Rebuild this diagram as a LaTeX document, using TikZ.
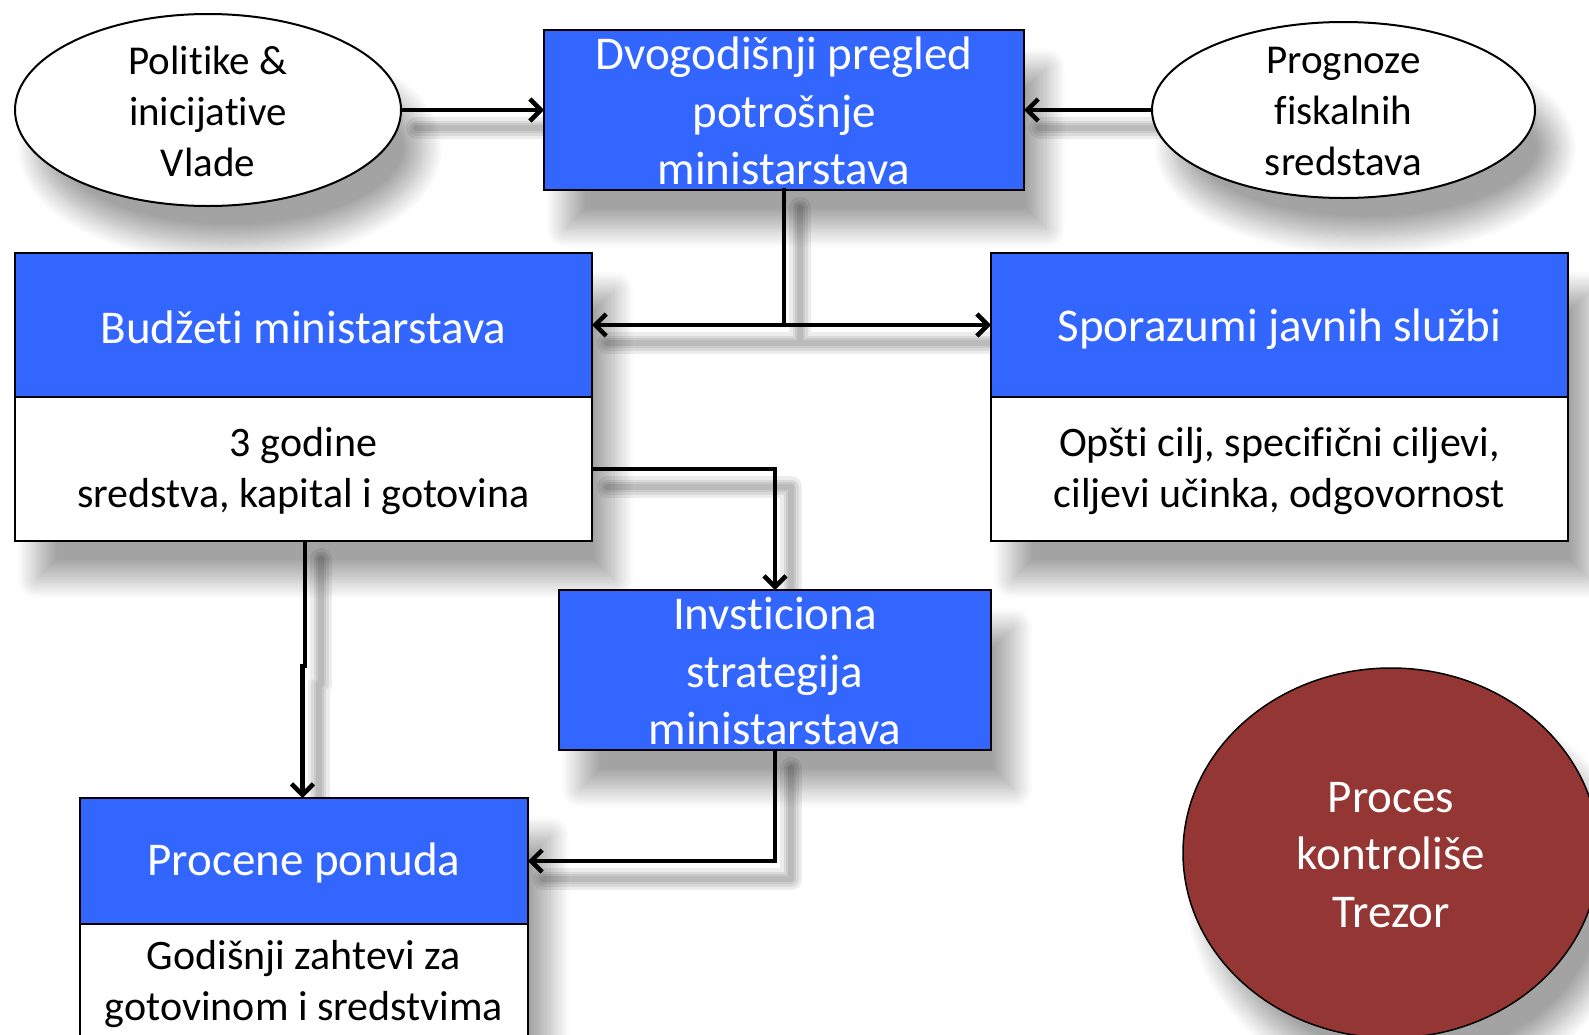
\documentclass[tikz,border=0pt]{standalone}
\usepackage{fontspec}
\setmainfont{Carlito}[Ligatures=NoCommon]
\usetikzlibrary{arrows.meta,shadows.blur,shapes.geometric}
\definecolor{boxblue}{HTML}{3366FF}
\definecolor{darkred}{HTML}{943634}
\begin{document}
\begin{tikzpicture}[x=1pt,y=-1pt,
  shd/.style={blur shadow={shadow xshift=22pt, shadow yshift=-38pt, shadow blur radius=20pt, shadow blur steps=18, shadow opacity=36}},
  ell/.style={ellipse, draw=black, line width=2pt, fill=white, inner sep=0, outer sep=0},
  bluebox/.style={rectangle, draw=black, line width=1.5pt, fill=boxblue, inner sep=0, outer sep=0},
  whitebox/.style={rectangle, draw=black, line width=1.5pt, fill=white, inner sep=0, outer sep=0},
  plainbox/.style={rectangle, fill=white, inner sep=0, outer sep=0},
  anchorbox/.style={rectangle, inner sep=0, outer sep=0},
  txw/.style={align=center, inner sep=0, text=white},
  txb/.style={align=center, inner sep=0, text=black},
  big/.style={font=\fontsize{47}{57.5}\selectfont},
  mid/.style={font=\fontsize{42}{51}\selectfont},
  sml/.style={font=\fontsize{41}{51}\selectfont},
  arr/.style={draw=black, line width=4.5pt, -{Straight Barb[length=11pt,width=22pt]}},
  con/.style={draw=black, line width=4.5pt},
  lsh/.style={draw=black, opacity=0.075, line cap=round, line join=round, transform canvas={shift={(16pt,-18pt)}}},
  pA/.style={insert path={(polE.east) -- (dvo.west)}},
  pB/.style={insert path={(progE.west) -- (dvo.east)}},
  pC/.style={insert path={(dvo.south) -- (dvo.south |- budH.east)}},
  pD/.style={insert path={(dvo.south |- budH.east) -- (budH.east)}},
  pE/.style={insert path={(dvo.south |- sporH.west) -- (sporH.west)}},
  pT/.style={insert path={(dvo.south) -- (dvo.south |- budH.east) (budH.east) -- (sporH.west)}},
  pF/.style={insert path={(budB.east) -| (inv.north)}},
  pG/.style={insert path={([xshift=1.5pt]budB.south) -- ([xshift=1.5pt]budB.south |- jog) -- ([xshift=-1.5pt]procH.north |- jog) -- ([xshift=-1.5pt]procH.north)}},
  pH/.style={insert path={(inv.south) |- (procH.east)}}
]
\clip (0,0) rectangle (1589,1034);
\coordinate (jog) at (0,666);

% anchor placeholders for the connectors
\node[ell, draw=none, fill=none, minimum width=386, minimum height=192] (polE) at (208,110) {};
\node[anchorbox, minimum width=480, minimum height=160] (dvo) at (784,110) {};
\node[ell, draw=none, fill=none, minimum width=383, minimum height=176] (progE) at (1343.5,110) {};
\node[anchorbox, minimum width=577, minimum height=144] (budH) at (303.5,325) {};
\node[anchorbox, minimum width=577, minimum height=144] (budB) at (303.5,469) {};
\node[anchorbox, minimum width=577, minimum height=144] (sporH) at (1279.5,325) {};
\node[anchorbox, minimum width=432, minimum height=160] (inv) at (775,670) {};
\node[anchorbox, minimum width=448, minimum height=126] (procH) at (304,861) {};

% connector shadows
\foreach \w in {22,15,10,6}{
  \foreach \p in {pA,pB,pT,pF,pG,pH}{
    \draw[lsh, line width=\w pt, \p];
  }
}

% shapes with shadows
\node[ell, shd, minimum width=386, minimum height=192] (polEs) at (208,110) {};
\node[bluebox, shd, minimum width=480, minimum height=160] (dvos) at (784,110) {};
\node[ell, shd, minimum width=383, minimum height=176] (progEs) at (1343.5,110) {};
\node[plainbox, shd, minimum width=577, minimum height=288] (budS) at (303.5,397) {};
\node[bluebox, minimum width=577, minimum height=144] (budHs) at (303.5,325) {};
\node[whitebox, minimum width=577, minimum height=144] (budBs) at (303.5,469) {};
\node[plainbox, shd, minimum width=577, minimum height=288] (sporS) at (1279.5,397) {};
\node[bluebox, minimum width=577, minimum height=144] (sporHs) at (1279.5,325) {};
\node[whitebox, minimum width=577, minimum height=144] (sporBs) at (1279.5,469) {};
\node[bluebox, shd, minimum width=432, minimum height=160] (invs) at (775,670) {};
\node[plainbox, shd, minimum width=448, minimum height=252] (procS) at (304,924) {};
\node[bluebox, minimum width=448, minimum height=126] (procHs) at (304,861) {};
\node[whitebox, minimum width=448, minimum height=126] (procBs) at (304,987) {};
\node[ellipse, draw=black, line width=1.5pt, fill=darkred, shd, inner sep=0, minimum width=416, minimum height=370] (trez) at (1391,853) {};

% texts
\node[txb, sml] (tPol) at (208,111) {Politike \&\\inicijative\\Vlade};
\node[txw, big] (tDvo) at (784,111) {Dvogodišnji pregled\\potrošnje\\ministarstava};
\node[txb, sml] (tProg) at (1343.5,111) {Prognoze\\fiskalnih\\sredstava};
\node[txw, big] (tBudH) at (303.5,327) {Budžeti ministarstava};
\node[txb, mid] (tBudB) at (303.5,471) {3 godine\\sredstva, kapital i gotovina};
\node[txw, big] (tSporH) at (1279.5,329) {Sporazumi javnih službi};
\node[txb, mid] (tSporB) at (1279.5,471) {Opšti cilj, specifični ciljevi,\\ciljevi učinka, odgovornost};
\node[txw, big] (tInv) at (775,671) {Invsticiona\\strategija\\ministarstava};
\node[txw, big] (tProcH) at (304,863) {Procene ponuda};
\node[txb, mid] (tProcB) at (304,984) {Godišnji zahtevi za\\gotovinom i sredstvima};
\node[txw, big] (tTrez) at (1391,855) {Proces\\kontroliše\\Trezor};

% connectors
\draw[arr, pA];
\draw[arr, pB];
\draw[con, line cap=rect, pC];
\draw[arr, pD];
\draw[arr, pE];
\draw[arr, pF];
\draw[arr, pG];
\draw[arr, pH];
\end{tikzpicture}
\end{document}
